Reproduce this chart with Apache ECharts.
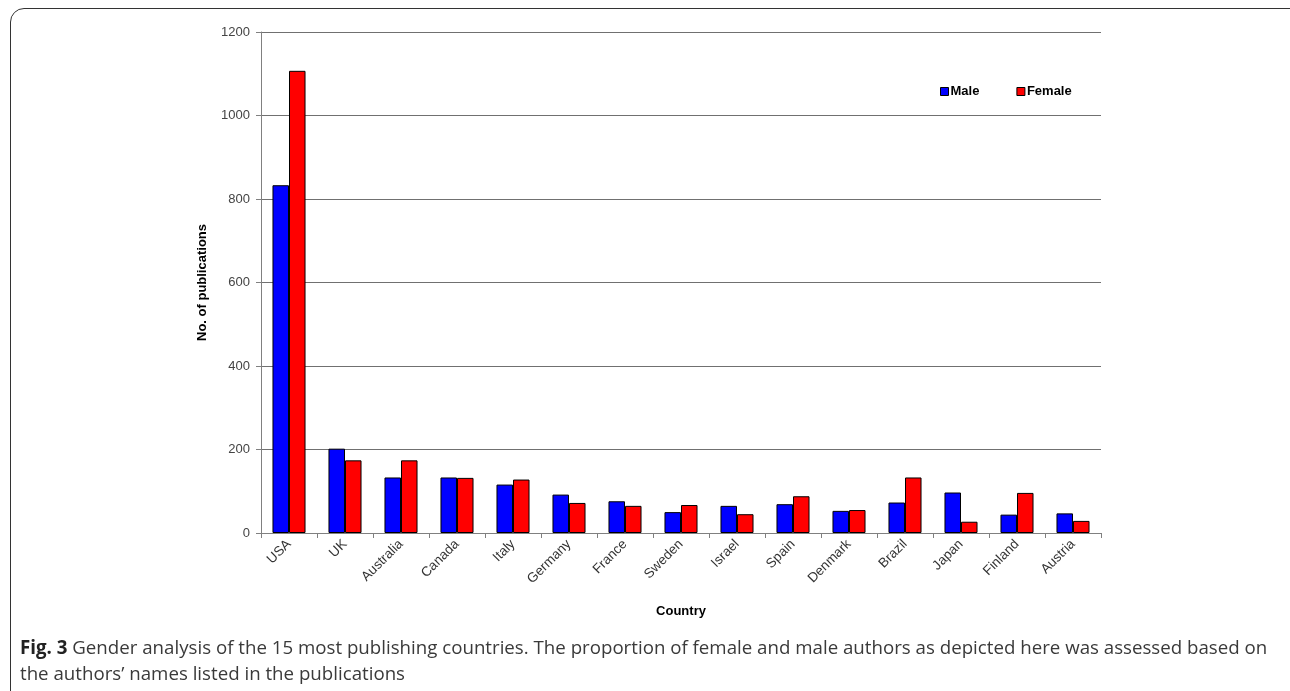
<!DOCTYPE html>
<html>
<head>
<meta charset="utf-8">
<script src="https://cdn.jsdelivr.net/npm/echarts@6/dist/echarts.min.js"></script>
<style>
html,body{margin:0;padding:0;background:#fff;width:1290px;height:691px;overflow:hidden;}
#frame{position:absolute;left:10px;top:8px;width:1300px;height:700px;border:1.5px solid #333;border-radius:14px;box-sizing:border-box;}
#chart{position:absolute;left:0;top:0;width:1290px;height:691px;}
</style>
</head>
<body>
<div id="frame"></div>
<div id="chart"></div>
<script>
const categories = ['USA','UK','Australia','Canada','Italy','Germany','France','Sweden','Israel','Spain','Denmark','Brazil','Japan','Finland','Austria'];
const maleValues = [833,202,133,133,116,92,76,50,65,69,53,73,97,44,47];
const femaleValues = [1107,174,174,132,128,72,65,67,45,88,55,133,27,96,29];
const yTicks = [0,200,400,600,800,1000,1200];

const chart = echarts.init(document.getElementById('chart'), null, {renderer:'canvas'});
const axisFont = 'Liberation Sans, Arial, sans-serif';
chart.setOption({
  animation:false,
  backgroundColor:'transparent',
  legend:{
    left:935, top:80, itemWidth:8, itemHeight:8, itemGap:37,
    icon:'rect',
    textStyle:{fontFamily:axisFont,fontSize:13,fontWeight:'bold',color:'#000',padding:[0,0,0,-3]},
    data:[
      {name:'Male',itemStyle:{borderColor:'#000',borderWidth:1}},
      {name:'Female',itemStyle:{borderColor:'#000',borderWidth:1}}
    ]
  },
  grid:{left:261,right:189,top:32,bottom:158},
  xAxis:{
    type:'category',
    data:categories,
    name:'Country',
    nameLocation:'middle',
    nameGap:72,
    nameTextStyle:{fontFamily:axisFont,fontSize:13,fontWeight:'bold',color:'#000'},
    axisLine:{lineStyle:{color:'#808080',width:1}},
    axisTick:{show:true,length:5,lineStyle:{color:'#808080'}},
    axisLabel:{rotate:45,fontFamily:axisFont,fontSize:13.5,color:'#333',margin:9,interval:0}
  },
  yAxis:{
    type:'value',
    min:0,max:1200,interval:200,
    name:'No. of publications',
    nameLocation:'middle',
    nameGap:52,
    nameRotate:90,
    nameTextStyle:{fontFamily:axisFont,fontSize:13,fontWeight:'bold',color:'#000'},
    axisLine:{show:true,lineStyle:{color:'#808080',width:1}},
    axisTick:{show:true,length:5,lineStyle:{color:'#808080'}},
    axisLabel:{fontFamily:axisFont,fontSize:13,color:'#444',margin:11,
      formatter:function(v){return yTicks.indexOf(v)>=0?String(v):'';}},
    splitLine:{show:true,lineStyle:{color:'#707070',width:1}}
  },
  series:[
    {name:'Male',type:'bar',data:maleValues,barGap:'0%',barCategoryGap:'41%',
      itemStyle:{color:'#0000ff',borderColor:'#000',borderWidth:1}},
    {name:'Female',type:'bar',data:femaleValues,
      itemStyle:{color:'#ff0000',borderColor:'#000',borderWidth:1}}
  ],
  graphic:[
    {type:'text',left:20,top:636,
      style:{
        text:'{b|Fig. 3} Gender analysis of the 15 most publishing countries. The proportion of female and male authors as depicted here was assessed based on\nthe authors\u2019 names listed in the publications',
        fill:'#3a3a3a',
        fontFamily:'Open Sans, sans-serif',
        fontSize:18.7,
        lineHeight:26,
        rich:{b:{fontWeight:'bold',fontFamily:'Open Sans, sans-serif',fontSize:18.7,fill:'#222'}}
      }}
  ]
});
</script>
</body>
</html>
